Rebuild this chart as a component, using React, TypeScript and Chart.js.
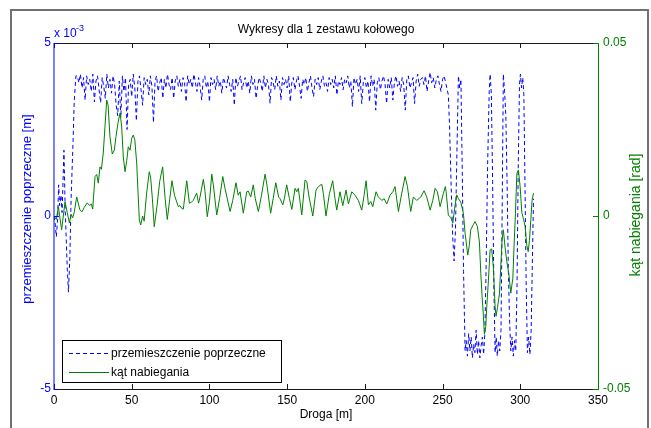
import { useEffect, useRef } from "react";
import { Chart, registerables } from "chart.js";

Chart.register(...registerables);

const W = 651;
const H = 428;
const FONT = '"Liberation Sans", Arial, Helvetica, sans-serif';

// Axis ticks
const xTicks = [0, 50, 100, 150, 200, 250, 300, 350];
const leftTicks = [-5, 0, 5]; // ×10^-3 m
const rightTicks = [-0.05, 0, 0.05]; // rad

// Lateral displacement (przemieszczenie poprzeczne), values in units of 1e-3 m
// run-in section
const przemStartDroga = [0, 0.7, 1.5, 2.3, 3.0, 3.6, 4.5, 5.2, 6.4, 7.2, 8.5, 9.3, 10.2, 11.0, 12.3, 13.0, 14.1];
const przemStart = [0.0, -0.2, -0.6, -0.1, 0.9, 0.3, 0.6, 0.1, 1.9, 0.2, -1.5, -2.2, -1.2, 0.5, 2.2, 3.3, 4.05];

// flange-contact section, sampled every 1 m from 15 m
const przemPlateauFrom = 15;
const przemPlateauStep = 1;
const przemPlateau = [
  4.05, 3.85, 4.1, 3.7, 4.0, 3.35, 4.05, 3.8, 3.95, 3.6,
  4.1, 3.3, 3.9, 4.05, 3.65, 3.27, 4.0, 3.75, 3.4, 4.1,
  3.7, 3.95, 3.55, 4.05, 3.8, 3.2, 2.9, 3.9, 2.85, 4.05,
  3.6, 4.0, 2.5, 3.8, 3.95, 3.45, 4.1, 3.7, 2.75, 3.9,
  4.05, 3.65, 3.2, 4.0, 3.8, 3.95, 3.5, 4.05, 3.75, 2.7,
  3.9, 4.05, 3.6, 3.85, 4.0, 3.4, 3.95, 3.7, 4.1, 3.8,
  3.65, 4.0, 3.4, 3.9, 4.05, 3.75, 3.95, 3.6, 4.0, 3.85,
  3.3, 4.05, 3.8, 3.95, 3.7, 4.1, 3.85, 3.6, 4.0, 3.75,
  3.35, 3.95, 4.05, 3.7, 3.9, 3.3, 4.0, 3.8, 3.95, 3.65,
  4.05, 3.75, 3.9, 3.55, 4.0, 3.85, 3.7, 4.05, 3.8, 3.6,
  3.95, 3.2, 4.0, 3.75, 3.9, 4.05, 3.65, 3.85, 4.0, 3.7,
  3.9, 3.55, 4.05, 3.8, 3.95, 3.4, 3.75, 4.0, 3.85, 3.6,
  4.05, 3.7, 3.95, 3.8, 3.26, 4.0, 3.85, 3.65, 4.05, 3.75,
  3.9, 3.35, 4.0, 3.8, 3.95, 3.7, 4.05, 3.3, 3.85, 4.0,
  3.65, 3.9, 4.05, 3.75, 3.4, 3.95, 3.8, 4.0, 3.6, 3.85,
  4.05, 3.7, 3.45, 3.95, 3.8, 4.0, 3.65, 3.9, 4.05, 3.75,
  3.85, 3.6, 4.0, 3.8, 3.95, 3.7, 4.05, 3.5, 3.9, 3.8,
  4.0, 3.65, 3.95, 3.85, 4.05, 3.7, 3.9, 3.16, 4.0, 3.8,
  3.95, 3.6, 4.05, 3.25, 3.85, 4.0, 3.7, 3.9, 3.3, 4.05,
  3.75, 3.95, 3.06, 3.85, 4.0, 3.65, 3.9, 4.05, 3.8, 3.25,
  3.95, 3.7, 4.0, 3.35, 3.85, 4.05, 3.75, 3.9, 3.6, 4.0,
  3.8, 3.06, 3.95, 4.05, 3.7, 3.85, 4.0, 3.25, 3.9, 4.1,
  3.75, 3.95, 4.0, 3.8, 4.05, 3.6, 3.9, 4.15, 3.85, 4.0,
  3.7, 3.95, 4.05, 3.8, 3.6, 3.95, 4.05, 3.85,
];

// curve exit: swinging between both flanges
const przemEndDroga = [
  253.7, 254.5, 255.5, 256.5, 257.4, 258.3, 259.3, 260.2, 261.0, 261.8,
  262.6, 263.5, 264.5, 265.2, 266.0, 266.8, 267.6, 268.4, 269.2, 270.0,
  270.8, 271.6, 272.4, 273.2, 274.0, 274.8, 275.6, 276.4, 277.2, 278.0,
  279.0, 280.0, 280.6, 281.4, 282.2, 283.0, 283.8, 284.5, 285.2, 286.0,
  286.8, 287.6, 288.3, 289.1, 289.9, 290.7, 291.5, 292.3, 293.1, 293.9,
  294.7, 295.5, 296.3, 297.1, 297.9, 298.7, 299.5, 300.1, 300.8, 301.6,
  302.3, 303.0, 303.8, 304.6, 305.4, 306.2, 307.0, 307.7, 308.5,
];
const przemEnd = [
  3.5, 2.6, 0.9, -0.6, -1.3, -0.4, 2.0, 4.05, 3.7, 3.95,
  1.5, -1.6, -3.9, -3.6, -4.05, -3.4, -3.9, -3.5, -4.1, -3.7,
  -3.95, -3.3, -4.0, -3.6, -4.1, -3.75, -3.5, -4.0, -3.4, -1.5,
  1.5, 3.6, 4.1, 3.5, 1.0, -2.0, -3.95, -3.5, -4.05, -3.6,
  -3.9, -3.3, 0.0, 4.1, 3.6, 2.9, 1.0, -1.5, -3.0, -3.9,
  -3.5, -4.05, -3.6, -3.9, -2.0, 1.5, 3.8, 4.1, 3.7, 4.0,
  3.5, 1.0, -2.0, -3.95, -3.5, -4.0, -3.3, -1.5, 0.5,
];

// Angle of attack (kąt nabiegania) [rad]
const katDroga = [
  0, 1.5, 2.8, 4.9, 7.1, 8.5, 9.9, 11, 12, 13,
  14.6, 16.7, 18, 19.5, 21.4, 23, 24, 24.9, 26.4, 27.5,
  28.5, 29.6, 30.5, 31.7, 32.8, 33.9, 34.8, 36, 37.5, 38.8,
  39.9, 41.2, 42.5, 43.5, 44.6, 45.7, 46.8, 47.8, 48.9, 50,
  51, 52, 53.2, 54, 54.9, 55.8, 57, 58, 59.6, 61.3,
  62.2, 63.3, 64.5, 66.3, 68, 69.9, 71.5, 72.9, 74.5, 75.9,
  77.5, 80, 81, 82.2, 83.2, 85.4, 87.1, 88.5, 89.6, 91.8,
  93, 93.5, 96.1, 97.2, 98.6, 100, 101.5, 102.5, 104.7, 106.5,
  108.6, 110, 113.3, 115, 117.1, 118.5, 119.7, 121.8, 124, 125,
  126.6, 128.2, 129.5, 131.5, 133.5, 135.8, 137, 139.4, 141, 142.7,
  144.5, 145.4, 147.2, 148.2, 149.7, 151.5, 153, 155.1, 156.2, 157.2,
  159.4, 161.5, 162.6, 164.1, 166.5, 168.6, 170.1, 172.3, 173.3, 175,
  177.2, 179.3, 180.8, 181.9, 184, 185.8, 187.9, 189.4, 191.6, 193.7,
  195.8, 198, 199.5, 200.8, 202.3, 203.8, 205.1, 207.2, 208.7, 210.9,
  212.4, 214.1, 216.2, 218, 219.4, 221.6, 223.7, 225.9, 227.4, 229.5,
  231.2, 233.4, 236, 238.1, 239.8, 242, 243.7, 245.2, 246.7, 248.4,
  250.5, 251.8, 252.3, 253.7, 255.3, 256.6, 258, 259.1, 260.2, 261.7,
  263.4, 264.5, 265.6, 266.2, 267.2, 268.1, 269.8, 270.9, 272.4, 273.7,
  274.6, 275.4, 276.3, 276.9, 277.8, 278.4, 279.5, 280.6, 281.6, 282.7,
  283.8, 284.4, 285.3, 286.6, 287.4, 288.3, 289.1, 290.2, 291.3, 292.6,
  293.9, 295.2, 296, 296.9, 297.8, 298.8, 299.9, 301, 302.1, 303.1,
  304.2, 305.1, 305.9, 306.8, 307.6, 308.5,
];
const katRad = [
  0, -0.001, 0.0027, -0.004, 0.0041, 0.001, -0.002, 0.0005, -0.0005, 0.001,
  0.0055, 0.0017, 0.0012, 0.0025, 0.0038, 0.003, 0.0035, 0.002, 0.0114, 0.012,
  0.0095, 0.0142, 0.0135, 0.0182, 0.0258, 0.0335, 0.032, 0.0229, 0.0179, 0.019,
  0.023, 0.027, 0.0297, 0.026, 0.0171, 0.0128, 0.016, 0.02, 0.019, 0.0225,
  0.0234, 0.022, 0.0153, 0.0075, -0.0012, -0.0026, 0.0, -0.0015, 0.0066, 0.0128,
  0.011, 0.005, -0.0031, 0.003, 0.01, 0.0142, 0.005, -0.001, 0.005, 0.0102,
  0.006, 0.0027, 0.003, 0.0022, 0.002, 0.0102, 0.0037, 0.004, 0.0045, 0.0066,
  0.0037, 0.0045, 0.0106, 0.007, -0.0002, 0.004, 0.0121, 0.009, 0.0003, 0.005,
  0.0114, 0.008, 0.0013, 0.0045, 0.0096, 0.006, 0.007, 0.0008, 0.007, 0.0072,
  0.0055, 0.009, 0.005, 0.0013, 0.006, 0.0121, 0.009, 0.0008, 0.005, 0.0096,
  0.0055, 0.005, 0.0032, 0.005, 0.009, 0.005, 0.0019, 0.008, 0.007, 0.008,
  0.0003, 0.0104, 0.01, 0.0055, 0.0, 0.0075, 0.0085, 0.0092, 0.0065, 0.0,
  0.0065, 0.0102, 0.005, 0.0017, 0.007, 0.003, 0.0075, 0.0035, 0.007, 0.006,
  0.0045, 0.0017, 0.006, 0.0102, 0.0032, 0.0042, 0.0027, 0.007, 0.0055, 0.0045,
  0.005, 0.0035, 0.006, 0.007, 0.0085, 0.0013, 0.0065, 0.0114, 0.0085, 0.0013,
  0.0055, 0.0045, 0.0055, 0.0073, 0.0055, 0.0017, 0.0045, 0.008, 0.007, 0.0027,
  0.0065, 0.0085, 0.007, 0.0003, -0.0005, -0.002, 0.003, 0.0061, 0.005, 0.004,
  0.0008, -0.005, -0.009, -0.0113, -0.0085, -0.004, -0.0025, -0.0016, -0.003, -0.0075,
  -0.0166, -0.023, -0.029, -0.0342, -0.032, -0.0265, -0.0185, -0.0098, -0.0095, -0.015,
  -0.0262, -0.029, -0.0265, -0.0225, -0.015, -0.0069, -0.004, -0.009, -0.013, -0.0166,
  -0.0223, -0.018, -0.0085, 0.0008, 0.0123, 0.0133, 0.0085, 0.001, -0.001, -0.003,
  -0.0085, -0.0103, -0.007, -0.001, 0.0046, 0.0066,
];

function przemPoints() {
  const pts: { x: number; y: number }[] = [];
  przemStartDroga.forEach((d, i) => pts.push({ x: d, y: przemStart[i] }));
  przemPlateau.forEach((v, i) => pts.push({ x: przemPlateauFrom + i * przemPlateauStep, y: v }));
  przemEndDroga.forEach((d, i) => pts.push({ x: d, y: przemEnd[i] }));
  return pts;
}

function katPoints() {
  return katDroga.map((d, i) => ({ x: d, y: katRad[i] }));
}

const BLUE = "#0000ff";
const GREEN = "#008000";
const TICK = 5;

// Axes box, inward ticks, titles and legend in the MATLAB plotyy style
const plotyyDecor = {
  id: "plotyyDecor",
  afterDraw(chart: any) {
    const { ctx } = chart;
    const { left, right, top, bottom } = chart.chartArea;
    const xs = chart.scales.x;
    const yl = chart.scales.yL;
    const yr = chart.scales.yR;
    ctx.save();

    // figure frame
    ctx.strokeStyle = "#707070";
    ctx.lineWidth = 2;
    ctx.beginPath();
    ctx.moveTo(11, H + 5);
    ctx.lineTo(11, 10);
    ctx.lineTo(648, 10);
    ctx.lineTo(648, H + 5);
    ctx.stroke();

    // top and bottom box lines with x ticks
    ctx.lineWidth = 1;
    ctx.strokeStyle = "#1a1a1a";
    ctx.beginPath();
    ctx.moveTo(left, top + 0.5);
    ctx.lineTo(right, top + 0.5);
    ctx.moveTo(left, bottom + 0.5);
    ctx.lineTo(right, bottom + 0.5);
    xTicks.forEach((t) => {
      const px = Math.round(xs.getPixelForValue(t)) + 0.5;
      ctx.moveTo(px, bottom);
      ctx.lineTo(px, bottom - TICK);
      ctx.moveTo(px, top);
      ctx.lineTo(px, top + TICK);
    });
    ctx.stroke();

    // left axis (blue)
    ctx.strokeStyle = BLUE;
    ctx.beginPath();
    ctx.moveTo(left, top);
    ctx.lineTo(left, bottom + 1);
    leftTicks.forEach((t) => {
      const py = Math.round(yl.getPixelForValue(t)) + 0.5;
      ctx.moveTo(left, py);
      ctx.lineTo(left + TICK, py);
    });
    ctx.stroke();

    // right axis (green)
    ctx.strokeStyle = GREEN;
    ctx.beginPath();
    ctx.moveTo(right + 0.5, top);
    ctx.lineTo(right + 0.5, bottom + 1);
    rightTicks.forEach((t) => {
      const py = Math.round(yr.getPixelForValue(t)) + 0.5;
      ctx.moveTo(right, py);
      ctx.lineTo(right - TICK, py);
    });
    ctx.stroke();

    // chart title
    ctx.fillStyle = "#000";
    ctx.font = `12px ${FONT}`;
    ctx.textAlign = "center";
    ctx.textBaseline = "alphabetic";
    ctx.fillText("Wykresy dla 1 zestawu kołowego", (left + right) / 2, 33);

    // x-axis title
    ctx.textBaseline = "middle";
    ctx.fillText("Droga [m]", (left + right) / 2, 415);

    // exponent of the left axis
    ctx.fillStyle = BLUE;
    ctx.textAlign = "left";
    ctx.textBaseline = "alphabetic";
    ctx.fillText("x 10", left, 37);
    ctx.font = `9px ${FONT}`;
    ctx.fillText("-3", left + 22, 31);

    // y-axis titles, both read bottom to top
    ctx.textAlign = "center";
    ctx.textBaseline = "middle";
    ctx.save();
    ctx.font = `13px ${FONT}`;
    ctx.translate(27, 209);
    ctx.rotate(-Math.PI / 2);
    ctx.fillStyle = BLUE;
    ctx.fillText("przemieszczenie poprzeczne [m]", 0, 0);
    ctx.restore();
    ctx.save();
    ctx.font = `14px ${FONT}`;
    ctx.translate(636, 215);
    ctx.rotate(-Math.PI / 2);
    ctx.fillStyle = GREEN;
    ctx.fillText("kąt nabiegania [rad]", 0, 0);
    ctx.restore();

    // legend
    ctx.font = `12px ${FONT}`;
    const lx = 62, ly = 340, lw = 219, lh = 42;
    ctx.fillStyle = "#fff";
    ctx.fillRect(lx, ly, lw, lh);
    ctx.strokeStyle = "#000";
    ctx.lineWidth = 1;
    ctx.strokeRect(lx + 0.5, ly + 0.5, lw, lh);
    const rows = [
      { text: "przemieszczenie poprzeczne", color: BLUE, dash: [4, 3], y: 353 },
      { text: "kąt nabiegania", color: GREEN, dash: [], y: 372 },
    ];
    rows.forEach((r) => {
      ctx.strokeStyle = r.color;
      ctx.setLineDash(r.dash);
      ctx.beginPath();
      ctx.moveTo(69, r.y + 0.5);
      ctx.lineTo(109, r.y + 0.5);
      ctx.stroke();
      ctx.setLineDash([]);
      ctx.fillStyle = "#000";
      ctx.textAlign = "left";
      ctx.textBaseline = "middle";
      ctx.fillText(r.text, 111, r.y + 1);
    });

    ctx.restore();
  },
};

export default function App() {
  const ref = useRef<HTMLCanvasElement | null>(null);

  useEffect(() => {
    const canvas = ref.current;
    if (!canvas) return;
    const tickFont = { family: FONT, size: 12 };
    const noGrid = { display: false, drawTicks: false, tickLength: 0 };
    const chart = new Chart(canvas, {
      type: "line",
      data: {
        datasets: [
          {
            label: "kąt nabiegania",
            data: katPoints(),
            yAxisID: "yR",
            borderColor: GREEN,
            borderWidth: 1,
            pointRadius: 0,
            tension: 0,
            fill: false,
          },
          {
            label: "przemieszczenie poprzeczne",
            data: przemPoints(),
            yAxisID: "yL",
            borderColor: BLUE,
            borderWidth: 1,
            borderDash: [4, 3],
            pointRadius: 0,
            tension: 0,
            fill: false,
          },
        ],
      },
      options: {
        animation: false,
        responsive: false,
        devicePixelRatio: 1,
        layout: { padding: { top: 43, left: 0, right: 0, bottom: 0 } },
        plugins: {
          legend: { display: false },
          tooltip: { enabled: false },
          title: { display: false },
        },
        scales: {
          x: {
            type: "linear",
            min: 0,
            max: 350,
            grid: noGrid,
            border: { display: false },
            afterBuildTicks: (s: any) => {
              s.ticks = xTicks.map((v) => ({ value: v }));
            },
            ticks: { color: "#000", font: tickFont, padding: 4, maxRotation: 0, autoSkip: false },
            afterFit: (s: any) => {
              s.height = 39;
            },
          },
          yL: {
            type: "linear",
            position: "left",
            min: -5,
            max: 5,
            grid: noGrid,
            border: { display: false },
            afterBuildTicks: (s: any) => {
              s.ticks = leftTicks.map((v) => ({ value: v }));
            },
            ticks: { color: BLUE, font: tickFont, padding: 3 },
            afterFit: (s: any) => {
              s.width = 54;
            },
          },
          yR: {
            type: "linear",
            position: "right",
            min: -0.05,
            max: 0.05,
            grid: noGrid,
            border: { display: false },
            afterBuildTicks: (s: any) => {
              s.ticks = rightTicks.map((v) => ({ value: v }));
            },
            ticks: { color: GREEN, font: tickFont, padding: 5, callback: (v: any) => String(v) },
            afterFit: (s: any) => {
              s.width = 53;
            },
          },
        },
      },
      plugins: [plotyyDecor],
    });
    return () => chart.destroy();
  }, []);

  return (
    <div style={{ position: "absolute", left: 0, top: 0, width: W, height: H, background: "#fff" }}>
      <canvas ref={ref} width={W} height={H} style={{ display: "block", width: W, height: H }} />
    </div>
  );
}
